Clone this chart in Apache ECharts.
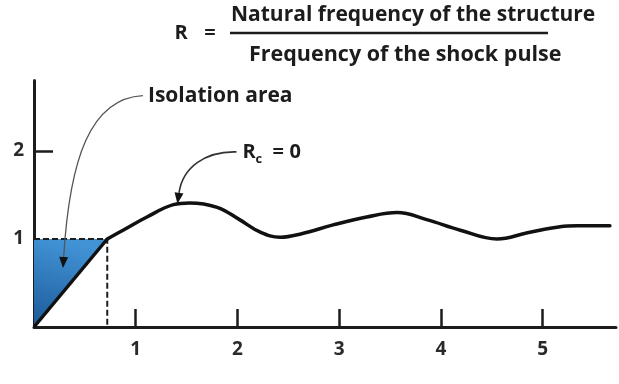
<!DOCTYPE html>
<html>
<head>
<meta charset="utf-8">
<script src="https://cdn.jsdelivr.net/npm/echarts@6/dist/echarts.min.js"></script>
<style>
  html, body { margin: 0; padding: 0; background: #fff; }
  #chart { width: 619px; height: 384px; }
</style>
</head>
<body>
<div id="chart"></div>
<script>
// tick labels
const xTicks = [1, 2, 3, 4, 5];
const yLabels = [1, 2];
const yTicks = [2];

// straight rise from the origin up to R = 1
const riseX = [0, 0.72];
const riseY = [0, 1];

// response curve for Rc = 0
const curveX = [0.72, 0.875, 1.11, 1.37, 1.53, 1.80, 2.02, 2.22, 2.42, 2.63, 2.94, 3.27, 3.57, 3.86, 4.19, 4.55, 4.85, 5.17, 5.34, 5.66];
const curveY = [1.00, 1.10, 1.25, 1.39, 1.41, 1.36, 1.22, 1.08, 1.02, 1.06, 1.16, 1.25, 1.30, 1.22, 1.10, 1.00, 1.07, 1.14, 1.15, 1.15];

// isolation area triangle and dashed guides
const isoX = [0, 0, 0.72];
const isoY = [0, 1, 1];
const guideX = [0, 0.72, 0.72];
const guideY = [1, 1, 0];

const zip = (xs, ys) => xs.map((x, i) => [x, ys[i]]);

const ink = '#1c1c1c';
const font = '"Open Sans", "Noto Sans", sans-serif';

const chart = echarts.init(document.getElementById('chart'), null, { renderer: 'canvas' });

const axisText = { color: '#2a2a2a', fontSize: 19, fontWeight: 'bold', fontFamily: font };

chart.setOption({
    animation: false,
    backgroundColor: '#fff',
    grid: { left: 34, right: 3, top: 80.6, bottom: 57, containLabel: false },
    xAxis: {
        type: 'value',
        min: 0,
        max: 5.72,
        axisLine: { show: true, onZero: false, lineStyle: { color: ink, width: 3 } },
        axisTick: { show: true, inside: true, length: 18, customValues: xTicks, lineStyle: { color: ink, width: 2.5 } },
        axisLabel: { ...axisText, margin: 13, customValues: xTicks },
        splitLine: { show: false },
    },
    yAxis: {
        type: 'value',
        min: 0,
        max: 2.8,
        axisLine: { show: true, onZero: false, lineStyle: { color: ink, width: 3 } },
        axisTick: { show: true, inside: true, length: 19, customValues: yTicks, lineStyle: { color: ink, width: 2.5 } },
        axisLabel: { ...axisText, margin: 10, customValues: yLabels },
        splitLine: { show: false },
    },
    series: [
        {
            // blue isolation area
            type: 'custom',
            data: [[0, 0]],
            silent: true,
            z: 1,
            renderItem: (params, api) => ({
                type: 'polygon',
                shape: { points: zip(isoX, isoY).map((p) => api.coord(p)) },
                style: {
                    fill: {
                        type: 'linear', x: 0.3, y: 0, x2: 0, y2: 1,
                        colorStops: [
                            { offset: 0, color: '#4193d6' },
                            { offset: 1, color: '#1c5a98' },
                        ],
                    },
                },
            }),
        },
        {
            type: 'line',
            data: zip(guideX, guideY),
            symbol: 'none',
            z: 2,
            lineStyle: { color: ink, width: 2, type: [6, 3] },
        },
        {
            type: 'line',
            data: zip(riseX, riseY),
            symbol: 'none',
            z: 3,
            lineStyle: { color: '#111', width: 3.5 },
        },
        {
            type: 'line',
            data: zip(curveX, curveY),
            smooth: 0.4,
            symbol: 'none',
            z: 3,
            lineStyle: { color: '#111', width: 3.5, cap: 'round', join: 'round' },
        },
    ],
});

// annotation leaders, anchored in data space: [start, cp1, cp2, tip]
const isoLeader = [[1.07, 2.63], [0.55, 2.60], [0.35, 1.90], [0.285, 0.67]];
const rcLeader = [[1.99, 1.99], [1.68, 2.0], [1.46, 1.81], [1.41, 1.40]];
const isoLabelAt = [1.12, 2.62];
const rcLabelAt = [2.05, 1.98];

const px = (p) => chart.convertToPixel({ gridIndex: 0 }, p);

function leader(pts, color, width) {
    const [s, c1, c2, e] = pts.map(px);
    const ang = Math.atan2(e[1] - c2[1], e[0] - c2[0]);
    const len = 11, half = 4.5;
    const bx = e[0] - len * Math.cos(ang), by = e[1] - len * Math.sin(ang);
    const nx = -Math.sin(ang) * half, ny = Math.cos(ang) * half;
    return [
        {
            type: 'bezierCurve',
            shape: { x1: s[0], y1: s[1], cpx1: c1[0], cpy1: c1[1], cpx2: c2[0], cpy2: c2[1], x2: bx, y2: by },
            style: { stroke: color, lineWidth: width, fill: null },
            z: 10,
        },
        {
            type: 'polygon',
            shape: { points: [e, [bx + nx, by + ny], [bx - nx, by - ny]] },
            style: { fill: '#111' },
            z: 10,
        },
    ];
}

const iso = px(isoLabelAt);
const rc = px(rcLabelAt);
const bold = (size) => ({ fontFamily: font, fontWeight: 'bold', fontSize: size, fill: ink });

chart.setOption({
    graphic: [
        // formula
        { type: 'text', x: 181, y: 33, style: { ...bold(20), text: 'R', align: 'center', verticalAlign: 'middle' } },
        { type: 'text', x: 210, y: 33, style: { ...bold(20), text: '=', align: 'center', verticalAlign: 'middle' } },
        { type: 'text', x: 231, y: 15, style: { ...bold(21), text: 'Natural frequency of the structure', align: 'left', verticalAlign: 'middle' } },
        { type: 'line', shape: { x1: 230, y1: 33, x2: 548, y2: 33 }, style: { stroke: ink, lineWidth: 2.5 } },
        { type: 'text', x: 249, y: 55, style: { ...bold(21.5), text: 'Frequency of the shock pulse', align: 'left', verticalAlign: 'middle' } },

        // annotations
        ...leader(isoLeader, '#555', 1.3),
        { type: 'text', x: iso[0], y: iso[1], style: { ...bold(21), text: 'Isolation area', align: 'left', verticalAlign: 'middle' } },
        ...leader(rcLeader, '#333', 1.6),
        { type: 'text', x: rc[0], y: rc[1], style: { ...bold(20), text: 'R', align: 'left', verticalAlign: 'middle' } },
        { type: 'text', x: rc[0] + 13, y: rc[1] + 7, style: { ...bold(13), text: 'c', align: 'left', verticalAlign: 'middle' } },
        { type: 'text', x: rc[0] + 30, y: rc[1], style: { ...bold(20), text: '=', align: 'left', verticalAlign: 'middle' } },
        { type: 'text', x: rc[0] + 47, y: rc[1], style: { ...bold(20), text: '0', align: 'left', verticalAlign: 'middle' } },
    ],
});
</script>
</body>
</html>
